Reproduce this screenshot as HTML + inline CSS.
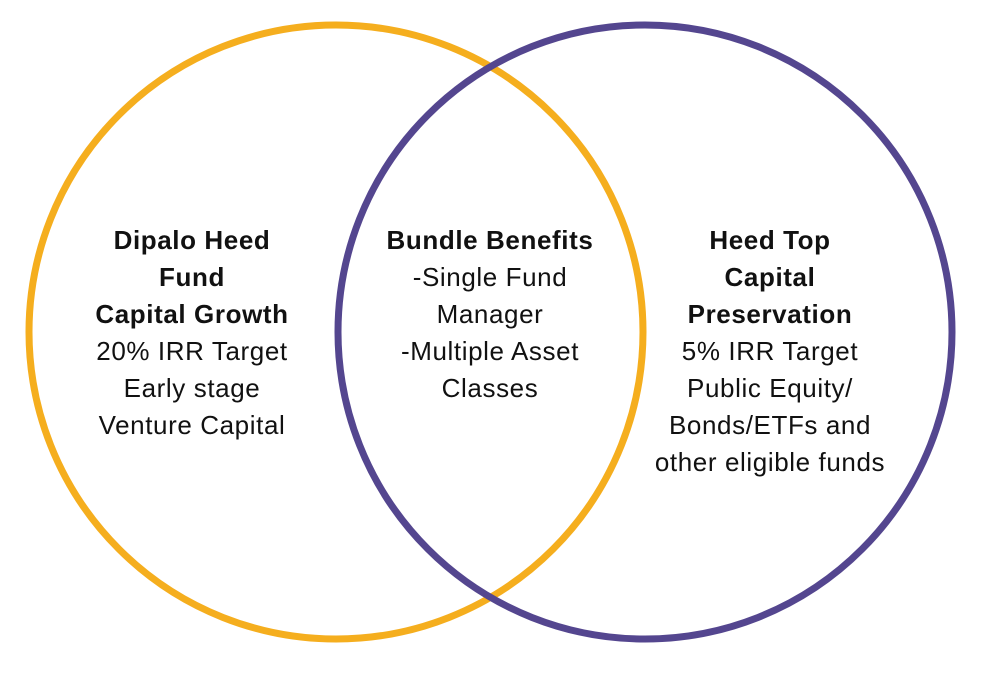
<!DOCTYPE html>
<html><head><style>
html,body{margin:0;padding:0;background:#fff;}
body{width:990px;height:673px;overflow:hidden;position:relative;}
.t{position:absolute;font-family:"Liberation Sans",sans-serif;font-size:26px;letter-spacing:0.6px;line-height:37px;color:#111;text-align:center;white-space:nowrap;}
b{font-weight:bold;}
</style></head><body>
<svg width="990" height="673" style="position:absolute;left:0;top:0">
<circle cx="336" cy="332" r="307" fill="none" stroke="#F5AE1E" stroke-width="7"/>
<circle cx="645" cy="332" r="307" fill="none" stroke="#54468F" stroke-width="7"/>
</svg>
<div class="t" style="left:42px;width:300px;top:222px"><b>Dipalo Heed<br>Fund<br>Capital Growth</b><br>20% IRR Target<br>Early stage<br>Venture Capital</div>
<div class="t" style="left:340px;width:300px;top:222px"><b>Bundle Benefits</b><br>-Single Fund<br>Manager<br>-Multiple Asset<br>Classes</div>
<div class="t" style="left:620px;width:300px;top:222px"><b>Heed Top<br>Capital<br>Preservation</b><br>5% IRR Target<br>Public Equity/<br>Bonds/ETFs and<br>other eligible funds</div>
</body></html>
